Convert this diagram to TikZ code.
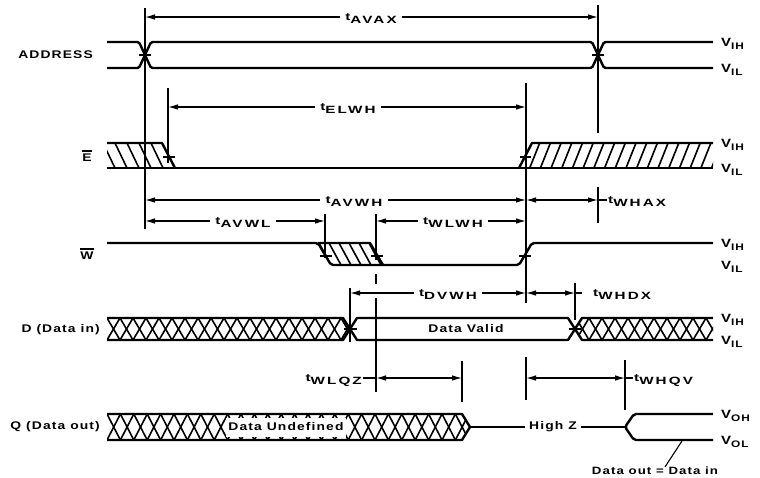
\documentclass[tikz,border=0pt]{standalone}
\usepackage{fontspec}
\setmainfont{Liberation Sans}[FakeStretch=1.25,LetterSpace=10]
\newfontfamily\tfont{Liberation Sans}[FakeStretch=1.45,LetterSpace=20]
\usetikzlibrary{arrows.meta}
\newcommand\tsig[1]{\raisebox{2.8pt}{t}#1}
\newcommand\vsub[2]{#1\raisebox{-2.8pt}{\fontsize{9.5}{11}\selectfont #2}}
\begin{document}
\begin{tikzpicture}[x=1pt,y=-1pt,
  sig/.style={line width=2.4pt,line join=round},
  hat/.style={line width=1.6pt},
  vref/.style={line width=1.1pt},
  dim/.style={line width=1.1pt},
  hzl/.style={line width=1.4pt},
  tip/.tip={Latex[length=10pt,width=5.5pt]},
  dimarr/.style={dim,-tip},
  dimboth/.style={dim,tip-tip},
  tick/.style={line width=1.1pt},
  lab/.style={font=\fontsize{11.1}{13}\selectfont\bfseries,inner sep=0pt},
  tlab/.style={font=\tfont\fontsize{10.5}{12}\selectfont\bfseries,inner xsep=5pt,inner ysep=0pt,anchor=base},
  vlab/.style={font=\fontsize{12}{14}\selectfont\bfseries,inner sep=0pt,anchor=base west},
]
\useasboundingbox (0,0) rectangle (760,477);

% ---------- vertical reference lines ----------
\draw[vref] (145,8) -- (145,229);
\draw[vref] (598,5) -- (598,133);
\draw[vref] (598,187) -- (598,223);
\draw[vref] (168,88) -- (168,163);
\draw[vref] (526,83) -- (526,303);
\draw[vref] (526,357) -- (526,400);
\draw[vref] (325,214) -- (325,258);
\draw[vref] (376,214) -- (376,260);
\draw[vref] (376,274) -- (376,284);
\draw[vref] (376,298) -- (376,392);
\draw[vref] (350,288) -- (350,342);
\draw[vref] (575,283) -- (575,320);
\draw[vref] (462,361) -- (462,402);
\draw[vref] (625,360) -- (625,410);

% ---------- ADDRESS ----------
\draw[sig,rounded corners=1.5pt] (107,42) -- (139,42) -- (151,68) -- (592,68) -- (604,42) -- (713,42);
\draw[sig,rounded corners=1.5pt] (107,68) -- (139,68) -- (151,42) -- (592,42) -- (604,68) -- (713,68);
\draw[tick] (139,55) -- (151,55);
\draw[tick] (592,55) -- (604,55);

% ---------- E ----------
\draw[sig] (107,168) -- (713,168);
\draw[sig] (107,143) -- (162,143) -- (175,168);
\begin{scope}
  \clip (107,143) -- (162,143) -- (175,168) -- (107,168) -- cycle;
  \foreach \xx in {91,103,...,175} \draw[hat] (\xx,143) -- ++(12,25);
\end{scope}
\draw[sig] (519,168) -- (532,143) -- (713,143);
\begin{scope}
  \clip (519,168) -- (532,143) -- (713,143) -- (713,168) -- cycle;
  \foreach \xx in {519,529.7,...,720} \draw[hat] (\xx,168) -- ++(10,-25);
\end{scope}
\draw[tick] (163,157) -- (175,157);
\draw[tick] (520,157) -- (531,157);

% ---------- W ----------
\draw[sig,rounded corners=2pt] (107,243) -- (318,243) -- (331,265) -- (519,265) -- (532,243) -- (713,243);
\draw[sig] (318,243) -- (370,243) -- (383,265);
\begin{scope}
  \clip (318,243) -- (370,243) -- (383,265) -- (331,265) -- cycle;
  \foreach \xx in {309,319,...,385} \draw[hat] (\xx,243) -- ++(12,22);
\end{scope}
\draw[tick] (320,256) -- (332,256);
\draw[tick] (371,256) -- (383,256);
\draw[tick] (519,256) -- (531,256);

% ---------- D ----------
\begin{scope}
  \clip (107,318) -- (343,318) -- (350,329) -- (343,340) -- (107,340) -- cycle;
  \foreach \xx in {107,120,...,350} {
    \draw[hat] (\xx,318) -- ++(13,22);
    \draw[hat] (\xx,340) -- ++(13,-22);
  }
\end{scope}
\begin{scope}
  \clip (575,329) -- (582,318) -- (713,318) -- (713,340) -- (582,340) -- cycle;
  \foreach \xx in {576,589,...,715} {
    \draw[hat] (\xx,318) -- ++(13,22);
    \draw[hat] (\xx,340) -- ++(13,-22);
  }
\end{scope}
\draw[sig] (107,318) -- (343,318) -- (350,329) -- (343,340) -- (107,340);
\draw[sig] (350,329) -- (357,318) -- (568,318) -- (575,329) -- (568,340) -- (357,340) -- cycle;
\draw[sig] (713,318) -- (582,318) -- (575,329) -- (582,340) -- (713,340);
\draw[tick] (344,329) -- (357,329);
\draw[tick] (569,329) -- (581,329);
\node[lab] (valid) at (466,329) {Data Valid};

% ---------- Q ----------
\begin{scope}
  \clip (107,414) -- (462,414) -- (470,427) -- (462,440) -- (107,440) -- cycle;
  \foreach \xx in {107,120.4,...,470} {
    \draw[hat] (\xx,414) -- ++(13.4,26);
    \draw[hat] (\xx,440) -- ++(13.4,-26);
  }
\end{scope}
\draw[sig] (107,414) -- (462,414) -- (470,427) -- (462,440) -- (107,440);
\node[lab,fill=white,minimum width=120pt,minimum height=19pt] (undef) at (286,427) {Data Undefined};
\node[lab,inner xsep=4pt] (hz) at (553,427) {High Z};
\draw[hzl] (470,427) -- (hz.west);
\draw[hzl] (hz.east) -- (625,427);
\draw[sig,rounded corners=2pt] (713,414) -- (634,414) -- (625,427) -- (634,440) -- (713,440);
\node[lab,font=\fontsize{10.6}{12}\selectfont\bfseries] (dout) at (655,471) {Data out = Data in};
\draw[dim] (682,441) -- (dout.north -| 665,0);

% ---------- left labels ----------
\node[lab,anchor=east] (addr) at (93,55) {ADDRESS};
\node[lab] (elab) at (87,158) {E};
\draw[line width=1.1pt] ([yshift=3pt]elab.north west) -- ([yshift=3pt]elab.north east);
\node[lab] (wlab) at (87,256) {W};
\draw[line width=1.1pt] ([yshift=3pt]wlab.north west) -- ([yshift=3pt]wlab.north east);
\node[lab,anchor=east] (din) at (100,330) {D (Data in)};
\node[lab,anchor=east] (qout) at (100,427) {Q (Data out)};

% ---------- right labels ----------
\node[vlab] (v1) at (721,46.5) {\vsub{V}{IH}};
\node[vlab] (v2) at (721,72.5) {\vsub{V}{IL}};
\node[vlab] (v3) at (721,147.5) {\vsub{V}{IH}};
\node[vlab] (v4) at (721,172.5) {\vsub{V}{IL}};
\node[vlab] (v5) at (721,247.5) {\vsub{V}{IH}};
\node[vlab] (v6) at (721,269.5) {\vsub{V}{IL}};
\node[vlab] (v7) at (721,322.5) {\vsub{V}{IH}};
\node[vlab] (v8) at (721,344.5) {\vsub{V}{IL}};
\node[vlab] (v9) at (721,418.5) {\vsub{V}{OH}};
\node[vlab] (v10) at (721,444.5) {\vsub{V}{OL}};

% ---------- timing dimensions ----------
\coordinate (a1) at (145,17); \coordinate (b1) at (598,17);
\node[tlab] (tavax) at (371,23.5) {\tsig{AVAX}};
\draw[dimarr] (tavax.west |- a1) -- (a1);
\draw[dimarr] (tavax.east |- b1) -- (b1);

\coordinate (a2) at (168,107); \coordinate (b2) at (526,107);
\node[tlab] (telwh) at (348,113.5) {\tsig{ELWH}};
\draw[dimarr] (telwh.west |- a2) -- (a2);
\draw[dimarr] (telwh.east |- b2) -- (b2);

\coordinate (a3) at (145,200); \coordinate (b3) at (526,200); \coordinate (c3) at (598,200);
\node[tlab] (tavwh) at (354,206.5) {\tsig{AVWH}};
\draw[dimarr] (tavwh.west |- a3) -- (a3);
\draw[dimarr] (tavwh.east |- b3) -- (b3);
\draw[dimboth] (b3) -- (c3);
\node[tlab,anchor=base west,inner xsep=1pt] (twhax) at (607,206.5) {\tsig{WHAX}};
\draw[dim] (c3) -- (twhax.west |- c3);

\coordinate (a4) at (145,221); \coordinate (b4) at (325,221);
\node[tlab] (tavwl) at (243,227.5) {\tsig{AVWL}};
\draw[dimarr] (tavwl.west |- a4) -- (a4);
\draw[dimarr] (tavwl.east |- b4) -- (b4);

\coordinate (a5) at (376,221); \coordinate (b5) at (526,221);
\node[tlab] (twlwh) at (453,227.5) {\tsig{WLWH}};
\draw[dimarr] (twlwh.west |- a5) -- (a5);
\draw[dimarr] (twlwh.east |- b5) -- (b5);

\coordinate (a6) at (350,293); \coordinate (b6) at (526,293); \coordinate (c6) at (575,293);
\node[tlab] (tdvwh) at (448,299.5) {\tsig{DVWH}};
\draw[dimarr] (tdvwh.west |- a6) -- (a6);
\draw[dimarr] (tdvwh.east |- b6) -- (b6);
\draw[dimboth] (b6) -- (c6);
\draw[dim] (c6) -- ++(7,0);
\node[tlab,anchor=base west,inner xsep=0pt] (twhdx) at (593,299.5) {\tsig{WHDX}};

\coordinate (a7) at (376,378); \coordinate (b7) at (462,378);
\node[tlab,anchor=base east,inner xsep=1pt] (twlqz) at (363,384.5) {\tsig{WLQZ}};
\draw[dim] (twlqz.east |- a7) -- (a7);
\draw[dimboth] (a7) -- (b7);

\coordinate (a8) at (526,378); \coordinate (b8) at (625,378);
\draw[dimboth] (a8) -- (b8);
\node[tlab,anchor=base west,inner xsep=1pt] (twhqv) at (633,384.5) {\tsig{WHQV}};
\draw[dim] (b8) -- (twhqv.west |- b8);

\end{tikzpicture}
\end{document}
